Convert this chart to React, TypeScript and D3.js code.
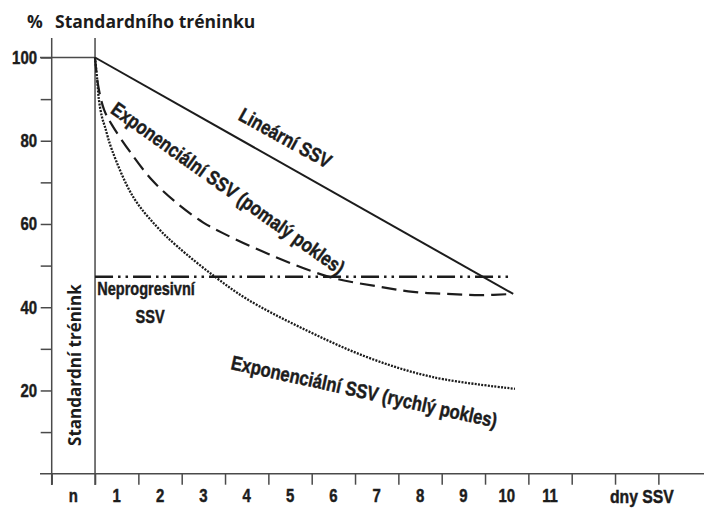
import { useEffect, useRef } from "react";
import * as d3 from "d3";

// x categories: "n" is the standard-training band, then SSV days
const xCategories = ["n", "1", "2", "3", "4", "5", "6", "7", "8", "9", "10", "11"];
const xTickValues = [-1, 0, 1, 2, 3, 4, 5, 6, 7, 8, 9, 10, 11, 12, 13];
const yTickValues = [10, 20, 30, 40, 50, 60, 70, 80, 90, 100];
const yLabelValues = [20, 40, 60, 80, 100];

// series, [day, % of standard training]
const linearSSV: [number, number][] = [
  [0, 100],
  [9.65, 43.2],
];
const nonProgressiveSSV: [number, number][] = [
  [0, 47.3],
  [9.58, 47.3],
];
const slowExpSSV: [number, number][] = [
  [0, 100],
  [0.07, 93.4],
  [0.21, 87.4],
  [0.39, 83.8],
  [0.81, 77.3],
  [1.32, 70.5],
  [1.89, 65.0],
  [2.49, 60.4],
  [2.95, 57.8],
  [4.0, 52.8],
  [5.4, 47.3],
  [6.58, 44.9],
  [7.34, 43.7],
  [8.12, 43.2],
  [8.88, 42.9],
  [9.65, 43.2],
];
const fastExpSSV: [number, number][] = [
  [0, 100],
  [0.05, 94.7],
  [0.09, 89.8],
  [0.16, 85.7],
  [0.23, 83.3],
  [0.39, 77.8],
  [0.88, 66.5],
  [1.43, 59.3],
  [1.9, 54.6],
  [2.77, 47.3],
  [3.5, 42.0],
  [4.73, 35.2],
  [6.28, 28.0],
  [7.8, 23.2],
  [9.69, 20.4],
];

const curveLabels = [
  { text: "Lineární SSV", x: 4.39, y: 80.7, angle: 29 },
  { text: "Exponenciální SSV (pomalý pokles)", x: 3.07, y: 68.6, angle: 35.5 },
  { text: "Exponenciální SSV (rychlý pokles)", x: 6.21, y: 19.75, angle: 12.5 },
];

const NARROW = "'Liberation Sans', Arial, sans-serif";
const SANS = "'Open Sans', 'Noto Sans', sans-serif";
const SQUEEZE = 0.83;

export default function App() {
  const svgRef = useRef<SVGSVGElement>(null);
  const width = 704;
  const height = 509;

  useEffect(() => {
    if (!svgRef.current) return;
    const svg = d3.select(svgRef.current);
    svg.selectAll("*").remove();

    const x = d3.scaleLinear().domain([-1, 14]).range([51.7, 701.7]);
    const y = d3.scaleLinear().domain([0, 100]).range([473.7, 57.5]);
    const axisColor = "#4a4a4a";
    const ink = "#1c1c1c";

    const narrowText = (
      txt: string,
      px: number,
      py: number,
      size: number,
      angle = 0,
      anchor = "middle"
    ) =>
      svg
        .append("text")
        .attr("transform", `translate(${px},${py}) rotate(${angle}) scale(${SQUEEZE},1)`)
        .attr("text-anchor", anchor)
        .style("font-family", NARROW)
        .style("font-weight", 700)
        .style("font-size", `${size}px`)
        .style("fill", ink)
        .style("stroke", ink)
        .style("stroke-width", 0.45)
        .text(txt);

    // axis frame lines
    const top = 38;
    const bottom = 485;
    svg.append("line")
      .attr("x1", 40).attr("x2", width)
      .attr("y1", y(0)).attr("y2", y(0))
      .attr("stroke", axisColor).attr("stroke-width", 1.5);
    [x(-1), x(0)].forEach((px) =>
      svg.append("line")
        .attr("x1", px).attr("x2", px)
        .attr("y1", top).attr("y2", bottom)
        .attr("stroke", axisColor).attr("stroke-width", 1.5)
    );
    svg.append("line")
      .attr("x1", 40).attr("x2", x(0))
      .attr("y1", y(100)).attr("y2", y(100))
      .attr("stroke", axisColor).attr("stroke-width", 1.5);

    // y axis ticks
    svg.append("g")
      .attr("transform", `translate(${x(-1)},0)`)
      .call(d3.axisLeft(y).tickValues(yTickValues).tickSize(11).tickFormat(() => ""))
      .call((ax) => ax.select(".domain").remove())
      .call((ax) => ax.selectAll(".tick line").attr("stroke", axisColor).attr("stroke-width", 1.5));

    yLabelValues.forEach((v) => {
      narrowText(String(v), 37, y(v) + 6.5, 18, 0, "end");
    });

    // x axis ticks
    svg.append("g")
      .attr("transform", `translate(0,${y(0)})`)
      .call(d3.axisBottom(x).tickValues(xTickValues).tickSize(11).tickFormat(() => ""))
      .call((ax) => ax.select(".domain").remove())
      .call((ax) => ax.selectAll(".tick line").attr("stroke", axisColor).attr("stroke-width", 1.5));

    xCategories.forEach((c, i) => {
      narrowText(c, x(i - 0.5), 502, 18);
    });
    narrowText("dny SSV", x(12.62), 503, 19);

    // series
    const line = d3
      .line<[number, number]>()
      .x((d) => x(d[0]))
      .y((d) => y(d[1]))
      .curve(d3.curveCatmullRom.alpha(0.5));

    const series = [
      { data: linearSSV, dash: null, w: 2 },
      { data: nonProgressiveSSV, dash: "18,5,2.5,5,2.5,5", w: 2.5 },
      { data: slowExpSSV, dash: "15,7", w: 2.2 },
      { data: fastExpSSV, dash: "2,1.3", w: 2.3 },
    ];
    series.forEach((s) => {
      const p = svg.append("path")
        .attr("d", line(s.data))
        .attr("fill", "none")
        .attr("stroke", ink)
        .attr("stroke-width", s.w);
      if (s.dash) p.attr("stroke-dasharray", s.dash);
    });

    // curve labels
    curveLabels.forEach((l) => {
      narrowText(l.text, x(l.x), y(l.y), 20, l.angle).attr("dy", "0.35em");
    });
    narrowText("Neprogresivní", x(0.05), y(42.9), 17.5, 0, "start");
    narrowText("SSV", x(1.27), y(36.2), 17.5);

    // titles
    const bold = (sel: d3.Selection<SVGTextElement, unknown, null, undefined>) =>
      sel
        .style("font-family", SANS)
        .style("font-weight", 700)
        .style("font-size", "17.5px")
        .style("fill", ink);
    svg.append("text").attr("x", 27).attr("y", 28).call(bold).text("%");
    svg.append("text").attr("x", 55).attr("y", 28).call(bold).text("Standardního tréninku");
    svg.append("text")
      .attr("transform", `translate(${x(-0.32)},${y(26.1)}) rotate(-90)`)
      .attr("text-anchor", "middle")
      .call(bold)
      .style("font-size", "17px")
      .text("Standardní trénink");
  }, []);

  return (
    <svg
      ref={svgRef}
      width={width}
      height={height}
      style={{ position: "absolute", left: 0, top: 0, background: "#fff", display: "block" }}
    />
  );
}
